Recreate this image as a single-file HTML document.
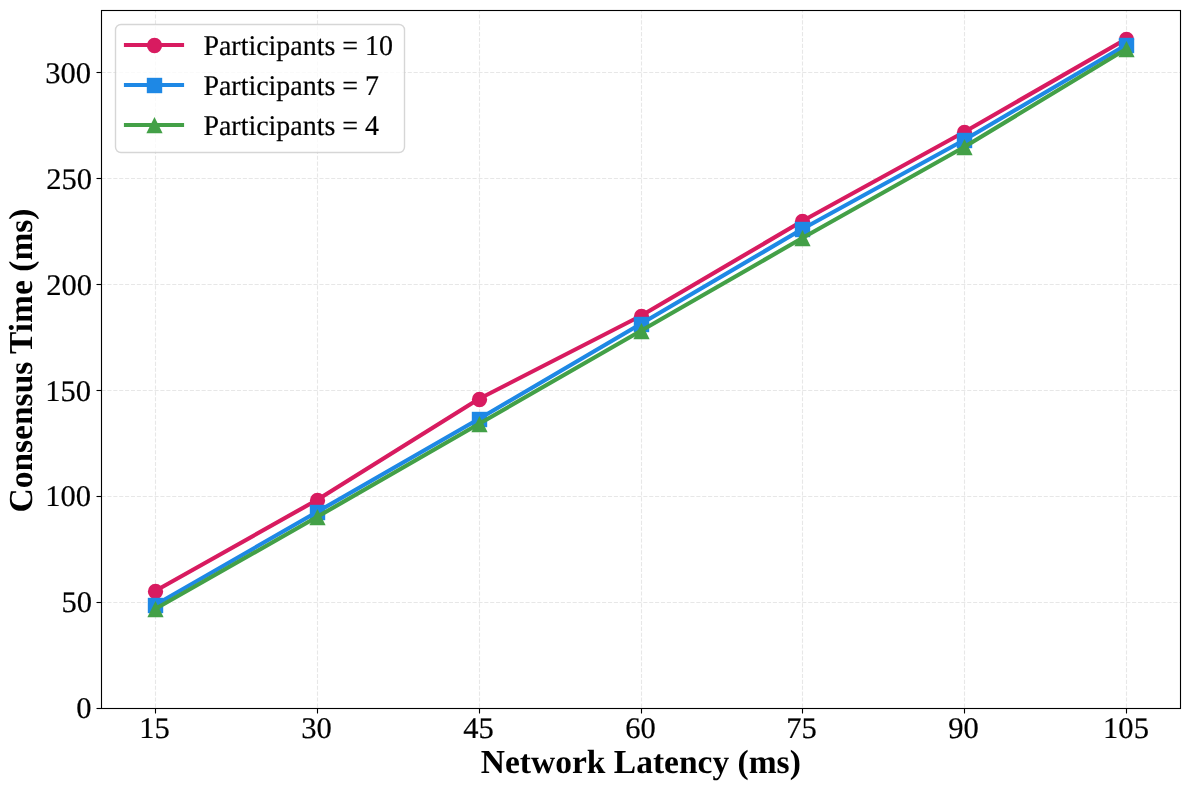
<!DOCTYPE html>
<html><head><meta charset="utf-8"><title>Consensus Time vs Network Latency</title>
<style>
html,body{margin:0;padding:0;background:#fff;}
svg{display:block;}
text{font-family:"Liberation Serif","Times New Roman",serif;fill:#000;text-rendering:geometricPrecision;}
.tick{font-size:30.56px;stroke:#000;stroke-width:0.2px;}
.lab{font-size:33.5px;font-weight:bold;}
.leg{font-size:27.95px;stroke:#000;stroke-width:0.2px;}
</style></head><body>
<svg width="1189" height="790" viewBox="0 0 1189 790">
<rect x="0" y="0" width="1189" height="790" fill="#fff"/>
<g stroke="#b0b0b0" stroke-opacity="0.3" stroke-width="1.111" stroke-dasharray="4.111 1.778" fill="none">
<line x1="155.5" y1="707.5" x2="155.5" y2="10.5"/>
<line x1="317.5" y1="707.5" x2="317.5" y2="10.5"/>
<line x1="479.5" y1="707.5" x2="479.5" y2="10.5"/>
<line x1="641.5" y1="707.5" x2="641.5" y2="10.5"/>
<line x1="802.5" y1="707.5" x2="802.5" y2="10.5"/>
<line x1="964.5" y1="707.5" x2="964.5" y2="10.5"/>
<line x1="1126.5" y1="707.5" x2="1126.5" y2="10.5"/>
<line x1="101.5" y1="708.5" x2="1180.5" y2="708.5"/>
<line x1="101.5" y1="602.5" x2="1180.5" y2="602.5"/>
<line x1="101.5" y1="496.5" x2="1180.5" y2="496.5"/>
<line x1="101.5" y1="390.5" x2="1180.5" y2="390.5"/>
<line x1="101.5" y1="284.5" x2="1180.5" y2="284.5"/>
<line x1="101.5" y1="178.5" x2="1180.5" y2="178.5"/>
<line x1="101.5" y1="72.5" x2="1180.5" y2="72.5"/>
</g>
<polyline points="155.14,591.00 316.96,500.00 478.78,399.00 640.60,316.00 802.42,221.00 964.24,132.00 1126.06,39.00" fill="none" stroke="#D81B60" stroke-width="4.167" stroke-linejoin="round" stroke-linecap="square"/>
<circle cx="155.5" cy="591.5" r="7.64" fill="#D81B60"/>
<circle cx="317.5" cy="500.5" r="7.64" fill="#D81B60"/>
<circle cx="479.5" cy="399.5" r="7.64" fill="#D81B60"/>
<circle cx="641.5" cy="316.5" r="7.64" fill="#D81B60"/>
<circle cx="802.5" cy="221.5" r="7.64" fill="#D81B60"/>
<circle cx="964.5" cy="132.5" r="7.64" fill="#D81B60"/>
<circle cx="1126.5" cy="39.5" r="7.64" fill="#D81B60"/>
<polyline points="155.14,605.00 316.96,512.00 478.78,419.00 640.60,324.00 802.42,229.00 964.24,140.00 1126.06,45.00" fill="none" stroke="#1E88E5" stroke-width="4.167" stroke-linejoin="round" stroke-linecap="square"/>
<rect x="147.805" y="597.805" width="15.39" height="15.39" fill="#1E88E5"/>
<rect x="309.805" y="504.805" width="15.39" height="15.39" fill="#1E88E5"/>
<rect x="471.805" y="411.805" width="15.39" height="15.39" fill="#1E88E5"/>
<rect x="633.805" y="316.805" width="15.39" height="15.39" fill="#1E88E5"/>
<rect x="794.805" y="221.805" width="15.39" height="15.39" fill="#1E88E5"/>
<rect x="956.805" y="132.805" width="15.39" height="15.39" fill="#1E88E5"/>
<rect x="1118.805" y="37.805" width="15.39" height="15.39" fill="#1E88E5"/>
<polyline points="155.14,609.00 316.96,517.00 478.78,424.00 640.60,331.00 802.42,238.00 964.24,147.00 1126.06,49.00" fill="none" stroke="#43A047" stroke-width="4.167" stroke-linejoin="round" stroke-linecap="square"/>
<polygon points="155.5,602.5 148.5,616.5 162.5,616.5" fill="#43A047" stroke="#43A047" stroke-width="1.389" stroke-linejoin="miter"/>
<polygon points="317.5,510.5 310.5,524.5 324.5,524.5" fill="#43A047" stroke="#43A047" stroke-width="1.389" stroke-linejoin="miter"/>
<polygon points="479.5,417.5 472.5,431.5 486.5,431.5" fill="#43A047" stroke="#43A047" stroke-width="1.389" stroke-linejoin="miter"/>
<polygon points="641.5,324.5 634.5,338.5 648.5,338.5" fill="#43A047" stroke="#43A047" stroke-width="1.389" stroke-linejoin="miter"/>
<polygon points="802.5,231.5 795.5,245.5 809.5,245.5" fill="#43A047" stroke="#43A047" stroke-width="1.389" stroke-linejoin="miter"/>
<polygon points="964.5,140.5 957.5,154.5 971.5,154.5" fill="#43A047" stroke="#43A047" stroke-width="1.389" stroke-linejoin="miter"/>
<polygon points="1126.5,42.5 1119.5,56.5 1133.5,56.5" fill="#43A047" stroke="#43A047" stroke-width="1.389" stroke-linejoin="miter"/>
<g stroke="#000" stroke-width="1.111">
<line x1="155.5" y1="708.5" x2="155.5" y2="713.5"/>
<line x1="317.5" y1="708.5" x2="317.5" y2="713.5"/>
<line x1="479.5" y1="708.5" x2="479.5" y2="713.5"/>
<line x1="641.5" y1="708.5" x2="641.5" y2="713.5"/>
<line x1="802.5" y1="708.5" x2="802.5" y2="713.5"/>
<line x1="964.5" y1="708.5" x2="964.5" y2="713.5"/>
<line x1="1126.5" y1="708.5" x2="1126.5" y2="713.5"/>
<line x1="101.5" y1="708.5" x2="96.5" y2="708.5"/>
<line x1="101.5" y1="602.5" x2="96.5" y2="602.5"/>
<line x1="101.5" y1="496.5" x2="96.5" y2="496.5"/>
<line x1="101.5" y1="390.5" x2="96.5" y2="390.5"/>
<line x1="101.5" y1="284.5" x2="96.5" y2="284.5"/>
<line x1="101.5" y1="178.5" x2="96.5" y2="178.5"/>
<line x1="101.5" y1="72.5" x2="96.5" y2="72.5"/>
</g>
<rect x="101.5" y="10.5" width="1079.0" height="698.0" fill="none" stroke="#000" stroke-width="1.111"/>
<text class="tick" transform="translate(154.5,737.7) scale(1,0.98)" text-anchor="middle">15</text>
<text class="tick" transform="translate(316.5,737.7) scale(1,0.98)" text-anchor="middle">30</text>
<text class="tick" transform="translate(478.5,737.7) scale(1,0.98)" text-anchor="middle">45</text>
<text class="tick" transform="translate(640.5,737.7) scale(1,0.98)" text-anchor="middle">60</text>
<text class="tick" transform="translate(801.5,737.7) scale(1,0.98)" text-anchor="middle">75</text>
<text class="tick" transform="translate(963.5,737.7) scale(1,0.98)" text-anchor="middle">90</text>
<text class="tick" transform="translate(1126.0,737.7) scale(1,0.98)" text-anchor="middle">105</text>
<text class="tick" transform="translate(91.6,717.7) scale(1,0.98)" text-anchor="end">0</text>
<text class="tick" transform="translate(92.1,611.7) scale(1,0.98)" text-anchor="end">50</text>
<text class="tick" transform="translate(91.1,505.7) scale(1,0.98)" text-anchor="end">100</text>
<text class="tick" transform="translate(91.1,400.7) scale(1,0.98)" text-anchor="end">150</text>
<text class="tick" transform="translate(92.1,294.7) scale(1,0.98)" text-anchor="end">200</text>
<text class="tick" transform="translate(92.1,188.7) scale(1,0.98)" text-anchor="end">250</text>
<text class="tick" transform="translate(91.1,82.7) scale(1,0.98)" text-anchor="end">300</text>
<text class="lab" x="640.8" y="772.7" text-anchor="middle">Network Latency (ms)</text>
<text class="lab" transform="translate(32.2,360.5) rotate(-90)" text-anchor="middle">Consensus Time (ms)</text>
<rect x="115.5" y="24.5" width="289" height="128" rx="5.5" ry="5.5" fill="#fff" fill-opacity="0.8" stroke="#ccc" stroke-opacity="0.8" stroke-width="1.389"/>
<line x1="126" y1="45" x2="182" y2="45" stroke="#D81B60" stroke-width="4.167" stroke-linecap="square"/>
<line x1="126" y1="85" x2="182" y2="85" stroke="#1E88E5" stroke-width="4.167" stroke-linecap="square"/>
<line x1="126" y1="125" x2="182" y2="125" stroke="#43A047" stroke-width="4.167" stroke-linecap="square"/>
<circle cx="154.5" cy="45.5" r="7.64" fill="#D81B60"/>
<rect x="146.805" y="77.805" width="15.39" height="15.39" fill="#1E88E5"/>
<polygon points="154.5,118.5 147.5,132.5 161.5,132.5" fill="#43A047" stroke="#43A047" stroke-width="1.389" stroke-linejoin="miter"/>
<text class="leg" transform="translate(203.4,55) scale(1,1.025)">Participants = 10</text>
<text class="leg" transform="translate(203.4,95) scale(1,1.025)">Participants = 7</text>
<text class="leg" transform="translate(203.4,135) scale(1,1.025)">Participants = 4</text>
</svg></body></html>
